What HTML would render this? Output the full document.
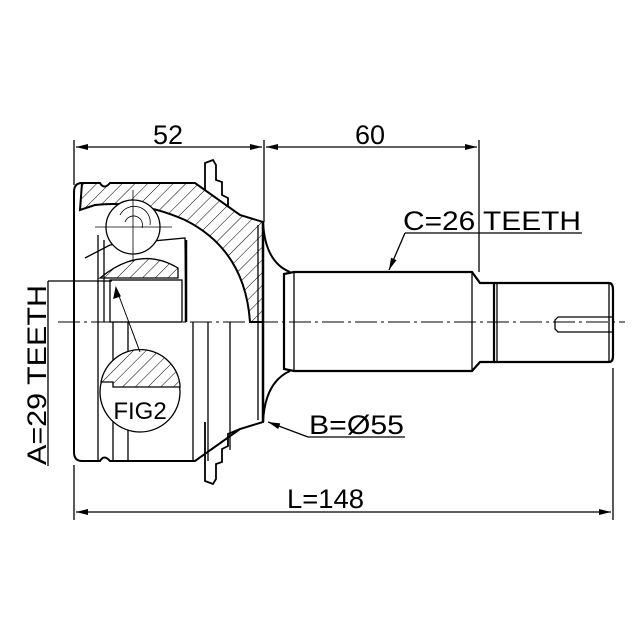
<!DOCTYPE html>
<html><head><meta charset="utf-8"><style>
html,body{margin:0;padding:0;background:#fff}
svg{display:block}
text{font-family:"Liberation Sans",sans-serif;fill:#000}
</style></head><body>
<svg width="640" height="640" viewBox="0 0 640 640" xmlns="http://www.w3.org/2000/svg">
<defs>
<pattern id="h" width="9" height="9" patternUnits="userSpaceOnUse" patternTransform="rotate(45)">
<rect width="9" height="9" fill="#fff"/><line x1="0" y1="0" x2="0" y2="9" stroke="#000" stroke-width="1"/>
</pattern>
<marker id="a" viewBox="0 0 12 6" refX="12" refY="3" markerWidth="14" markerHeight="6" orient="auto-start-reverse" markerUnits="userSpaceOnUse">
<path d="M0,0 L12,3 L0,6 z" fill="#000"/></marker>
</defs>
<g fill="none" stroke="#000" stroke-width="1.3">
<line x1="74" y1="140" x2="74" y2="185"/>
<line x1="264" y1="140" x2="264" y2="222"/>
<line x1="479" y1="140" x2="479" y2="272"/>
<line x1="76" y1="147" x2="262" y2="147" marker-start="url(#a)" marker-end="url(#a)"/>
<line x1="266" y1="147" x2="477" y2="147" marker-start="url(#a)" marker-end="url(#a)"/>
<line x1="74" y1="465" x2="74" y2="520"/>
<line x1="613" y1="368" x2="613" y2="520"/>
<line x1="76" y1="512" x2="611" y2="512" marker-start="url(#a)" marker-end="url(#a)"/>

<path d="M205,222 L205,163 L213,160 L216,165 L216,180 L222,182 L222,195 L228,198 L228,210 L240,215" stroke-width="1.8"/>
<path d="M205,422 L205,481 L213,484 L216,479 L216,464 L222,462 L222,449 L228,446 L228,434 L240,429" stroke-width="1.8"/>

<path d="M82,183 L100,183 Q104,190 110,183 L195,183 L240,215 L263,222 L263,322 L250,322 Q245,250 185,220 Q140,200 95,205 L80,210 Z" fill="url(#h)" stroke-width="2"/>
<path d="M82,461 L100,461 Q104,454 110,461 L195,461 L240,429 L263,422 L263,322" stroke-width="2"/>
<path d="M82,183 Q74,183 74,192 L74,452 Q74,461 82,461" stroke-width="2"/>
<line x1="263" y1="222" x2="263" y2="422" stroke-width="2.5"/>
<line x1="258" y1="225" x2="258" y2="420"/>
<line x1="98" y1="322" x2="98" y2="461"/>
<line x1="113" y1="322" x2="113" y2="461"/>
<line x1="128" y1="322" x2="128" y2="461"/>
<line x1="193" y1="322" x2="193" y2="461"/>
<line x1="208" y1="322" x2="208" y2="461"/>
<line x1="230" y1="322" x2="230" y2="450"/>
<path d="M85,258 L110,245 L185,238 L186,322" />
<path d="M100,278 Q140,245 178,268 L178,278 Z" fill="url(#h)"/>
<rect x="110" y="280" width="72" height="42"/>
<line x1="186" y1="240" x2="186" y2="322" stroke-width="2.5"/>
<line x1="98" y1="235" x2="98" y2="322"/>
<line x1="104" y1="240" x2="104" y2="322"/>
<circle cx="133" cy="227" r="27" fill="#fff"/>
<path d="M120,215 A16,16 0 0 1 150,225 M125,222 A9,9 0 0 1 142,228" stroke-width="0.8"/>
<line x1="133" y1="190" x2="133" y2="262" stroke-width="0.8"/>
<line x1="95" y1="227" x2="172" y2="227" stroke-width="0.8"/>
<circle cx="140" cy="392" r="40" fill="#fff"/>
<path d="M101,382 A40,40 0 0 1 180,385 L180,387 L113,387 L113,382 Z" fill="url(#h)"/>
<line x1="140" y1="352" x2="116" y2="288" stroke-width="1"/>
<path d="M116,288 L114,298 L120,296 Z" fill="#000"/>
<path d="M263,222 Q265,262 290,272 M263,422 Q265,382 290,371" stroke-width="2"/>
<path d="M284,274 L294,272 L472,272 L480,283 L494,283 L494,362 L480,362 L472,371 L294,371 L284,369 Z" stroke-width="2.2"/>
<line x1="294" y1="272" x2="294" y2="371"/>
<line x1="472" y1="272" x2="472" y2="371"/>
<path d="M494,283 L609,283 Q613,283 613,290 L613,356 Q613,362 609,362 L494,362" stroke-width="2.2"/>
<line x1="497" y1="283" x2="497" y2="362"/>
<line x1="609" y1="283" x2="609" y2="362"/>
<path d="M613,317 L558,317 L555,320 L555,329 L558,332 L613,332"/>
<line x1="58" y1="322" x2="625" y2="322" stroke-width="0.9" stroke-dasharray="22,4,3,4"/>
<line x1="405" y1="233" x2="582" y2="233"/>
<line x1="405" y1="233" x2="389" y2="270" marker-end="url(#a)"/>
<line x1="308" y1="437" x2="405" y2="437"/>
<line x1="308" y1="437" x2="268" y2="422" marker-end="url(#a)"/>
<line x1="48" y1="281" x2="112" y2="281"/>
<line x1="48" y1="281" x2="48" y2="466"/>
</g>
<text x="168" y="144" font-size="27" text-anchor="middle">52</text>
<text x="370" y="144" font-size="27" text-anchor="middle">60</text>
<text x="287" y="508" font-size="27" textLength="77" lengthAdjust="spacingAndGlyphs">L=148</text>
<text x="403" y="230" font-size="27" textLength="178" lengthAdjust="spacingAndGlyphs">C=26 TEETH</text>
<text x="309" y="434" font-size="27" textLength="95" lengthAdjust="spacingAndGlyphs">B=Ø55</text>
<text x="140" y="419" font-size="24" text-anchor="middle">FIG2</text>
<text transform="translate(46,465) rotate(-90)" font-size="27" textLength="180" lengthAdjust="spacingAndGlyphs">A=29 TEETH</text>
</svg>
</body></html>
